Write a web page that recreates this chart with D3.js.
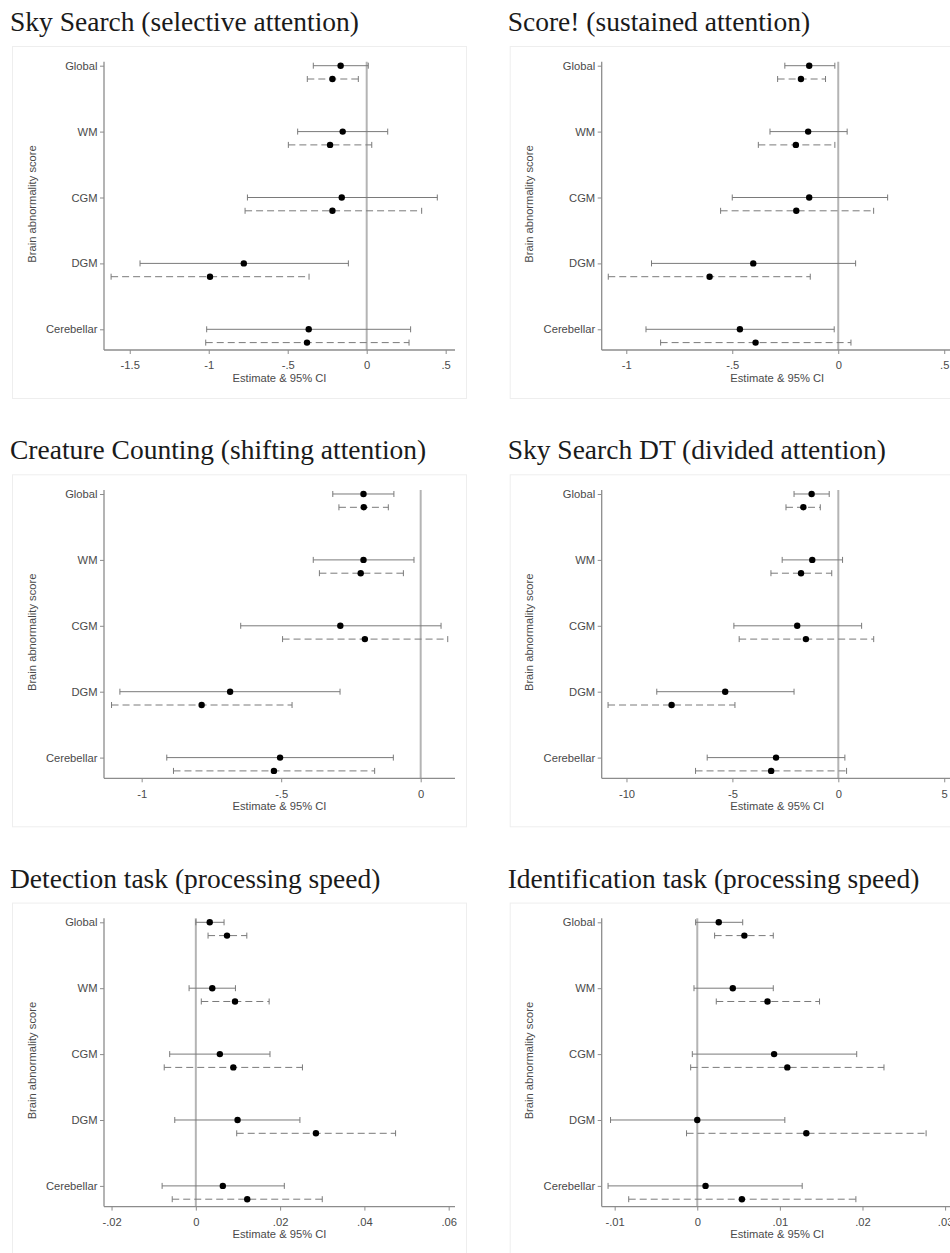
<!DOCTYPE html>
<html>
<head>
<meta charset="utf-8">
<title>Brain abnormality scores - attention tasks</title>
<script src="https://cdn.jsdelivr.net/npm/d3@7"></script>
<style>
  body { margin: 0; background: #fff; }
  .title { font-family: "Liberation Serif", "Times New Roman", serif; fill: #1a1a1a; }
  .lbl { font-family: "Liberation Sans", Arial, sans-serif; fill: #4a4a4a; }
</style>
</head>
<body>
<div id="chart"></div>
<script>

// categories on the y axis, top to bottom
var categories = ["Global", "WM", "CGM", "DGM", "Cerebellar"];

var panelTitles = [
  "Sky Search (selective attention)",
  "Score! (sustained attention)",
  "Creature Counting (shifting attention)",
  "Sky Search DT (divided attention)",
  "Detection task (processing speed)",
  "Identification task (processing speed)"
];

// [lower CI, estimate, upper CI] per category; solid = model 1, dashed = model 2
var skySearchSolid  = [[-0.338, -0.165, 0.010], [-0.437, -0.152, 0.133], [-0.755, -0.158, 0.447], [-1.435, -0.778, -0.116], [-1.013, -0.367, 0.278]];
var skySearchDashed = [[-0.376, -0.217, -0.053], [-0.496, -0.232, 0.032], [-0.770, -0.217, 0.348], [-1.618, -0.992, -0.365], [-1.019, -0.378, 0.268]];

var scoreSolid  = [[-0.252, -0.137, -0.016], [-0.322, -0.142, 0.042], [-0.500, -0.137, 0.233], [-0.881, -0.401, 0.082], [-0.907, -0.464, -0.019]];
var scoreDashed = [[-0.286, -0.176, -0.060], [-0.377, -0.200, -0.016], [-0.555, -0.198, 0.167], [-1.085, -0.607, -0.132], [-0.838, -0.390, 0.060]];

var creatureSolid  = [[-0.315, -0.205, -0.096], [-0.385, -0.205, -0.024], [-0.645, -0.288, 0.073], [-1.078, -0.683, -0.289], [-0.910, -0.504, -0.098]];
var creatureDashed = [[-0.293, -0.204, -0.116], [-0.363, -0.215, -0.062], [-0.495, -0.200, 0.097], [-1.108, -0.785, -0.461], [-0.886, -0.526, -0.165]];

var skySearchDTSolid  = [[-2.09, -1.26, -0.43], [-2.65, -1.23, 0.20], [-4.93, -1.94, 1.10], [-8.57, -5.34, -2.09], [-6.19, -2.94, 0.31]];
var skySearchDTDashed = [[-2.47, -1.65, -0.85], [-3.18, -1.76, -0.31], [-4.68, -1.53, 1.67], [-10.87, -7.87, -4.88], [-6.74, -3.17, 0.39]];

var detectionSolid  = [[0.0000, 0.0033, 0.0067], [-0.0016, 0.0039, 0.0094], [-0.0062, 0.0057, 0.0176], [-0.0050, 0.0099, 0.0247], [-0.0080, 0.0064, 0.0210]];
var detectionDashed = [[0.0029, 0.0074, 0.0121], [0.0013, 0.0093, 0.0174], [-0.0075, 0.0089, 0.0253], [0.0097, 0.0285, 0.0474], [-0.0056, 0.0122, 0.0300]];

var identSolid  = [[-0.0002, 0.0026, 0.0055], [-0.0004, 0.0043, 0.0092], [-0.0006, 0.0093, 0.0193], [-0.0105, 0.0000, 0.0106], [-0.0108, 0.0010, 0.0127]];
var identDashed = [[0.0021, 0.0057, 0.0092], [0.0023, 0.0085, 0.0148], [-0.0008, 0.0109, 0.0226], [-0.0013, 0.0132, 0.0277], [-0.0083, 0.0054, 0.0192]];

// x axis extent and tick values per panel
var xDomains = [[-1.663, 0.559], [-1.116, 0.540], [-1.135, 0.123], [-11.17, 5.40], [-0.02179, 0.0615], [-0.01157, 0.03092]];
var xTicks = [[-1.5, -1, -0.5, 0, 0.5], [-1, -0.5, 0, 0.5], [-1, -0.5, 0], [-10, -5, 0, 5], [-0.02, 0, 0.02, 0.04, 0.06], [-0.01, 0, 0.01, 0.02, 0.03]];

var panels = [
  [skySearchSolid, skySearchDashed],
  [scoreSolid, scoreDashed],
  [creatureSolid, creatureDashed],
  [skySearchDTSolid, skySearchDTDashed],
  [detectionSolid, detectionDashed],
  [identSolid, identDashed]
];

var W = 950, H = 1253;
var colX = [0, 497.7];
var rowY = [0, 428.3, 856.6];
var axL = 104, axR = 455, axT = 61.7, axB = 350;
var dashOffset = 13.3;

// stata style numbers: .5, -.02
function stataFmt(v) {
  var s = String(+v.toFixed(4));
  return s.replace(/^(-?)0\./, "$1.");
}

var svg = d3.select("#chart").append("svg")
  .attr("width", W)
  .attr("height", H);

var y = d3.scalePoint().domain(categories).range([65.7, 329.3]);

panels.forEach(function(series, p) {
  var ox = colX[p % 2], oy = rowY[Math.floor(p / 2)];
  var g = svg.append("g").attr("transform", "translate(" + ox + "," + oy + ")");

  // faint frame around plot region
  g.append("rect")
    .attr("x", 12.5).attr("y", 46.5)
    .attr("width", 454).attr("height", 352)
    .attr("fill", "none")
    .attr("stroke", "#eeeeee");

  g.append("text")
    .attr("class", "title")
    .attr("x", 10)
    .attr("y", 31)
    .style("font-size", "27.5px")
    .text(panelTitles[p]);

  var x = d3.scaleLinear().domain(xDomains[p]).range([axL, axR]);

  // zero reference line
  g.append("line")
    .attr("x1", x(0)).attr("x2", x(0))
    .attr("y1", axT).attr("y2", axB)
    .attr("stroke", "#b4b4b4")
    .attr("stroke-width", 2);

  var xAxis = g.append("g")
    .attr("transform", "translate(0," + axB + ")")
    .call(d3.axisBottom(x).tickValues(xTicks[p]).tickSize(4).tickPadding(7.5).tickFormat(stataFmt));
  xAxis.select(".domain").attr("d", "M" + axL + ",0H" + axR);

  var yAxis = g.append("g")
    .attr("transform", "translate(" + axL + ",0)")
    .call(d3.axisLeft(y).tickSize(4).tickPadding(2.5));
  yAxis.select(".domain").attr("d", "M0," + axT + "V" + axB);

  [xAxis, yAxis].forEach(function(a) {
    a.selectAll(".domain").attr("stroke", "#8c8c8c").attr("stroke-width", 1.3);
    a.selectAll(".tick line").attr("stroke", "#8c8c8c");
    a.selectAll(".tick text")
      .attr("class", "lbl")
      .attr("fill", null)
      .style("font-size", "11.2px");
  });

  g.append("text")
    .attr("class", "lbl")
    .attr("x", (axL + axR) / 2)
    .attr("y", 381.7)
    .attr("text-anchor", "middle")
    .style("font-size", "11.2px")
    .text("Estimate & 95% CI");

  g.append("text")
    .attr("class", "lbl")
    .attr("transform", "translate(35.7,204) rotate(-90)")
    .attr("text-anchor", "middle")
    .style("font-size", "11.2px")
    .text("Brain abnormality score");

  series.forEach(function(rows, s) {
    var off = s * dashOffset;
    var sg = g.append("g");
    rows.forEach(function(r, i) {
      var yy = y(categories[i]) + off;
      sg.append("line")
        .attr("x1", x(r[0])).attr("x2", x(r[2]))
        .attr("y1", yy).attr("y2", yy)
        .attr("stroke", "#7a7a7a")
        .attr("stroke-width", 1)
        .attr("stroke-dasharray", s == 1 ? "7,4" : null);
      [r[0], r[2]].forEach(function(v) {
        sg.append("line")
          .attr("x1", x(v)).attr("x2", x(v))
          .attr("y1", yy - 3).attr("y2", yy + 3)
          .attr("stroke", "#7a7a7a")
          .attr("stroke-width", 1);
      });
      sg.append("circle")
        .attr("cx", x(r[1]))
        .attr("cy", yy)
        .attr("r", 3.2)
        .attr("fill", "#000");
    });
  });
});

</script>
</body>
</html>
